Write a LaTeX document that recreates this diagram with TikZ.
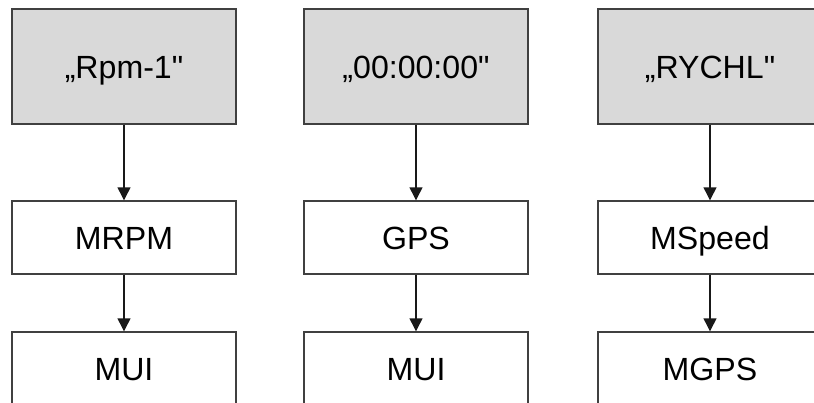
\documentclass[tikz,border=0pt]{standalone}
\usepackage{fontspec}
\newfontfamily\boxfont{Liberation Sans}
\usetikzlibrary{arrows.meta,positioning}
\tikzset{
    source/.style={
                draw=black!75,
                line width=1.2pt,
                fill=black!15,
                inner sep=0pt,
                text height=20pt,
                text depth=0pt,
                minimum width=6.72cm,
                minimum height=3.45cm,
                font=\boxfont\fontsize{27.4}{30}\selectfont
            },
        module/.style={
                draw=black!75,
                line width=1.2pt,
                fill=white,
                inner sep=0pt,
                text height=20pt,
                text depth=0pt,
                minimum width=6.72cm,
                minimum height=2.19cm,
                font=\boxfont\fontsize{27.4}{30}\selectfont
            },
        flow/.style={
                draw=black!90,
                line width=1.1pt,
                -{Triangle[length=11pt,width=11pt]}
            },
}

\begin{document}
\begin{tikzpicture}[x=0.03cm,y=-0.03cm]
  \useasboundingbox (0,0) rectangle (814,403);
  \clip (0,0) rectangle (814,403);
  % Sources
  \node[source] (rpm) at (124,66.5) {„Rpm-1"};
  \node[source] (time) at (416,66.5) {„00:00:00"};
  \node[source] (speed) at (710,66.5) {„RYCHL"};
  % Modules
  \node[module] (mrpm) at (124,237.5) {MRPM};
  \node[module] (gps) at (416,237.5) {GPS};
  \node[module] (mspeed) at (710,237.5) {MSpeed};
  % Outputs
  \node[module] (muia) at (124,368.5) {MUI};
  \node[module] (muib) at (416,368.5) {MUI};
  \node[module] (mgps) at (710,368.5) {MGPS};
  % Arrows
  \draw[flow] (rpm) -- (mrpm);
  \draw[flow] (mrpm) -- (muia);
  \draw[flow] (time) -- (gps);
  \draw[flow] (gps) -- (muib);
  \draw[flow] (speed) -- (mspeed);
  \draw[flow] (mspeed) -- (mgps);
\end{tikzpicture}
\end{document}
